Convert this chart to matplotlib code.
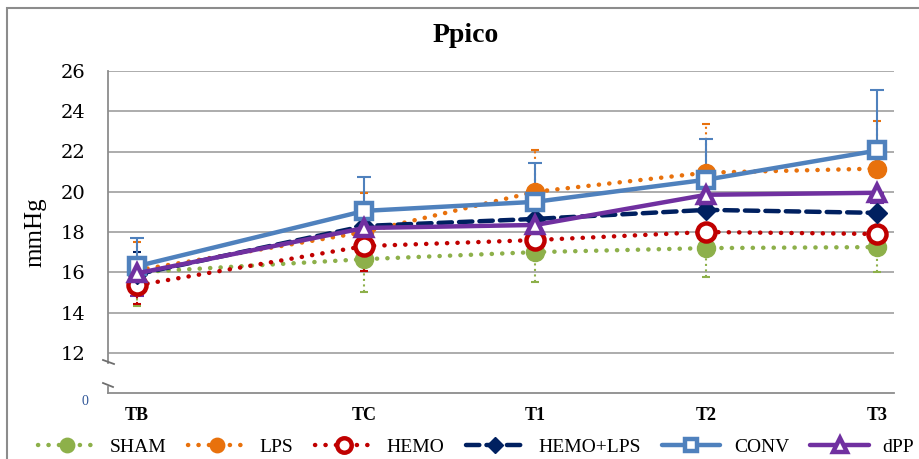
import matplotlib.pyplot as plt
from matplotlib.lines import Line2D
from matplotlib.patches import Rectangle

plt.rcParams['font.family'] = ['Liberation Serif', 'DejaVu Serif']

# time points (uneven spacing as in the original chart)
times = ['TB', 'TC', 'T1', 'T2', 'T3']
t_pos = [0, 1.33, 2.33, 3.33, 4.33]

sham = [16.0, 16.65, 17.0, 17.2, 17.25]
sham_err = [1.7, 1.65, 1.5, 1.45, 1.25]        # drawn downwards
lps = [16.1, 18.0, 20.0, 20.95, 21.15]
lps_err = [1.4, 1.95, 2.05, 2.4, 2.35]         # drawn upwards
hemo = [15.35, 17.3, 17.6, 18.0, 17.9]
hemo_err = [0.95, 1.25, 0.6, 0.5, 0.5]         # downwards
hemolps = [15.9, 18.3, 18.65, 19.1, 18.95]
hemolps_err = [1.1, 0.5, 0.5, 0.5, 0.5]        # upwards
conv = [16.3, 19.05, 19.5, 20.6, 22.05]
conv_err = [1.4, 1.7, 1.95, 2.0, 3.0]          # upwards
dpp = [15.95, 18.2, 18.35, 19.85, 19.95]
dpp_err = [1.15, 0.4, 0.4, 0.5, 0.5]           # downwards

dots = (0, (0.05, 2.3))
dash = (0, (3.0, 1.6))

series = [
    ('SHAM', sham, sham_err, 'down', '#8DB04A', dots, 'o', '#8DB04A'),
    ('LPS', lps, lps_err, 'up', '#E8710C', dots, 'o', '#E8710C'),
    ('HEMO', hemo, hemo_err, 'down', '#C00000', dots, 'o', 'white'),
    ('HEMO+LPS', hemolps, hemolps_err, 'up', '#002060', dash, 'D', '#002060'),
    ('CONV', conv, conv_err, 'up', '#4F81BD', '-', 's', 'white'),
    ('dPP', dpp, dpp_err, 'down', '#7030A0', '-', '^', 'white'),
]

fig = plt.figure(figsize=(9.19, 4.59), dpi=100)
W, H = 919, 459
ax = fig.add_axes([108 / W, 1 - 393 / H, (894 - 108) / W, (393 - 71) / H])

handles = []
for i, (name, vals, err, side, col, ls, mk, mfc) in enumerate(series):
    zero = [0] * len(err)
    yerr = [zero, err] if side == 'up' else [err, zero]
    solid = ls == '-'
    eb = ax.errorbar(t_pos, vals, yerr=yerr, fmt='none', ecolor=col,
                     elinewidth=1.5, capsize=5 if solid else 3, capthick=1.5,
                     zorder=2 + i * 0.1)
    if not solid:
        eb[2][0].set_linestyle(':')
    ms = 13 if mk == 'o' else (11 if mk == 's' else 12)
    if mk == 'D':
        ms = 10
    mew = 3.2 if mfc == 'white' else 1
    ln, = ax.plot(t_pos, vals, color=col, lw=3.2, linestyle=ls,
                  dash_capstyle='round', solid_capstyle='round',
                  marker=mk, ms=ms, mfc=mfc, mec=col, mew=mew,
                  zorder=3 + i * 0.1, label=name)
    handles.append(ln)

ax.set_xlim(-0.17, 4.427)
ax.set_ylim(10, 26)
ax.set_yticks(range(12, 27, 2))
ax.set_yticklabels([str(v) for v in range(12, 27, 2)],
                   family='DejaVu Serif', fontsize=14)
ax.set_xticks(t_pos)
ax.set_xticklabels(times, fontweight='bold', fontsize=13)
ax.tick_params(axis='y', length=0, pad=16.5)
ax.tick_params(axis='x', length=0, pad=10)
ax.yaxis.grid(True, color='#A6A6A6', lw=1.3)
ax.set_axisbelow(True)

for s in ['top', 'right']:
    ax.spines[s].set_visible(False)
ax.spines['bottom'].set_color('#8C8C8C')
ax.spines['bottom'].set_linewidth(1.3)
ax.spines['left'].set_color('#8C8C8C')
ax.spines['left'].set_linewidth(1.3)
ax.spines['left'].set_bounds(11.49, 26)
ax.plot([-0.17, -0.17], [10, 10.3], color='#8C8C8C', lw=1.3, clip_on=False)

# axis break marks
for (x1, y1, x2, y2) in [(103, 360, 114, 364), (103, 383, 113, 387)]:
    fig.add_artist(Line2D([x1 / W, x2 / W], [1 - y1 / H, 1 - y2 / H],
                          transform=fig.transFigure, color='#6E6E6E', lw=1.3))

ax.text(-0.0293, -0.025, '0', transform=ax.transAxes, ha='center', va='center',
        fontsize=10, color='#2E5597')

fig.text(466 / W, 1 - 35 / H, 'Ppico', ha='center', va='center',
         fontsize=20, fontweight='bold')
fig.text(35 / W, 1 - 232 / H, 'mmHg', ha='center', va='center',
         rotation=90, fontsize=18)

fig.legend(handles, [h.get_label() for h in handles], loc='center left',
           bbox_to_anchor=(30 / W, 1 - 447 / H), ncol=6, frameon=False,
           fontsize=14, handlelength=3.0, handletextpad=0.7,
           columnspacing=1.1, borderaxespad=0, markerscale=0.8)

fig.add_artist(Rectangle((7 / W, -0.1), 1.2, 1 - 8 / H + 0.1,
                         transform=fig.transFigure, fill=False,
                         ec='#8C8C8C', lw=1.5))

fig.savefig('out.png', dpi=100)
